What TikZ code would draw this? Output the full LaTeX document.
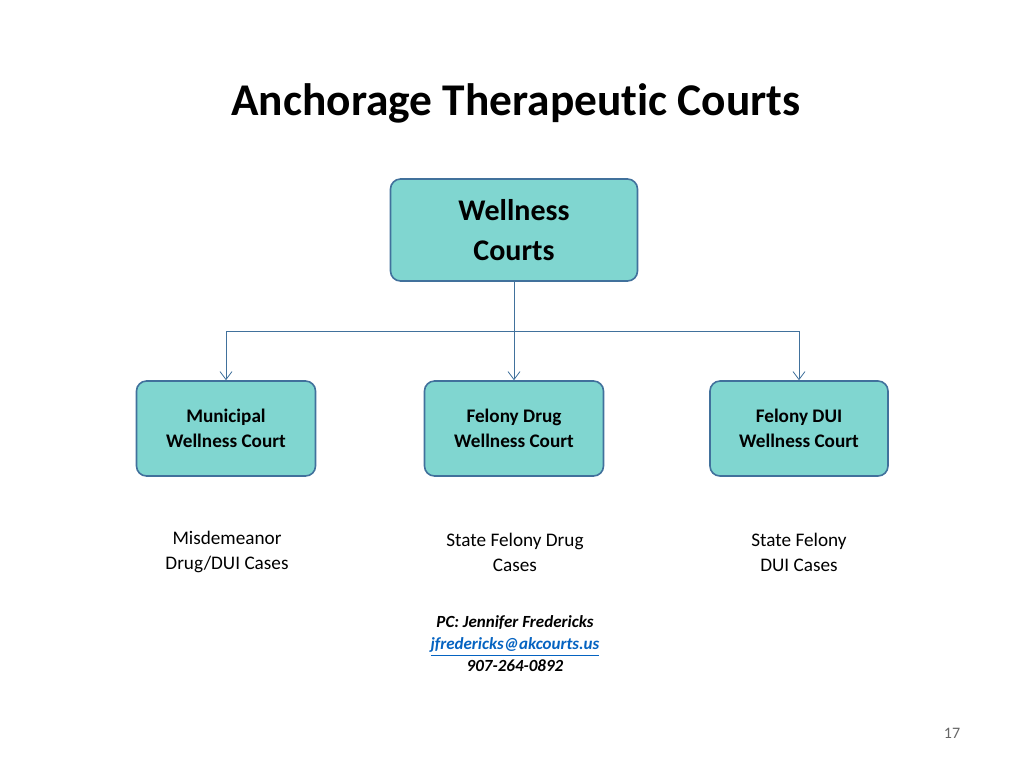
\documentclass[tikz,border=0pt]{standalone}
\usepackage{fontspec}
\setmainfont[Ligatures=NoCommon]{Carlito}
\usetikzlibrary{arrows.meta}
\definecolor{boxfill}{RGB}{128,214,208}
\definecolor{boxline}{RGB}{65,113,156}
\definecolor{linkblue}{RGB}{5,99,193}
\tikzset{
  court/.style={draw=boxline, fill=boxfill, rounded corners=5pt, thick, align=center, font=\bfseries\fontsize{9.6}{12.5}\selectfont},
  cases/.style={align=center, font=\fontsize{9.6}{12.5}\selectfont},
  link/.style={draw=boxline, -{Straight Barb[length=4pt,width=6pt]}}
}
\begin{document}
\begin{tikzpicture}[x=0.5pt,y=-0.5pt]
    \useasboundingbox (0,0) rectangle (1024,768);
    \node[font=\bfseries\fontsize{22.7}{26}\selectfont] (title) at (516,103) {Anchorage Therapeutic Courts};
    \node[court, minimum width=123.5pt, minimum height=51pt, font=\bfseries\fontsize{15}{20}\selectfont] (top) at (514,230) {Wellness\\Courts};
    \node[court, minimum width=89.5pt, minimum height=47.5pt] (muni) at (226,428.5) {Municipal\\Wellness Court};
    \node[court, minimum width=89.5pt, minimum height=47.5pt] (drug) at (514,428.5) {Felony Drug\\Wellness Court};
    \node[court, minimum width=89pt, minimum height=47.5pt] (dui) at (799,428.5) {Felony DUI\\Wellness Court};
    \coordinate (split) at (514,331);
    \draw[boxline] (top.south) -- (split);
    \draw[link] (split) -- (drug.north);
    \draw[link] (split) -| (muni.north);
    \draw[link] (split) -| (dui.north);
    \node[cases] (c1) at (227,552) {Misdemeanor\\Drug/DUI Cases};
    \node[cases] (c2) at (515,552) {State Felony Drug\\Cases};
    \node[cases] (c3) at (799,552) {State Felony\\DUI Cases};
    \node[align=center, font=\bfseries\itshape\fontsize{8.5}{11}\selectfont] (pc) at (515,644)
      {PC: Jennifer Fredericks\\\textcolor{linkblue}{\underline{jfredericks@akcourts.us}}\\907-264-0892};
    \node[text=gray!80!black, font=\fontsize{8}{10}\selectfont] (page) at (952,733) {17};
\end{tikzpicture}
\end{document}
